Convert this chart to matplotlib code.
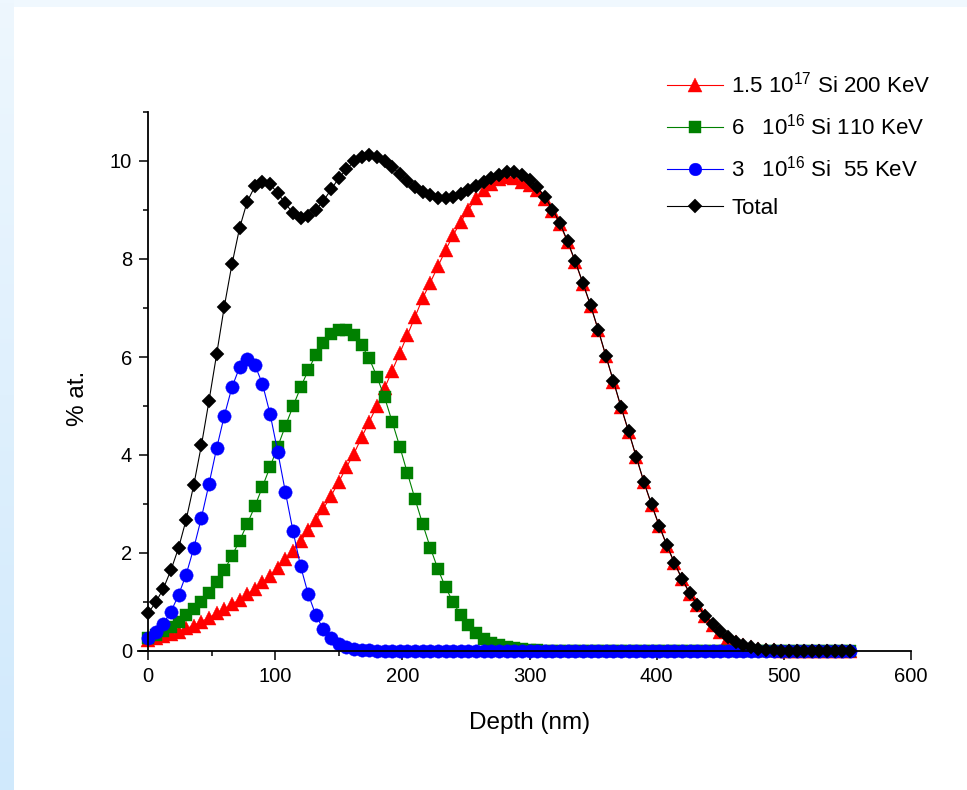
import numpy as np
import matplotlib
matplotlib.use("Agg")
import matplotlib.pyplot as plt
from matplotlib.colors import LinearSegmentedColormap

plt.rcParams['font.family'] = ['Liberation Sans', 'DejaVu Sans']
plt.rcParams['mathtext.fontset'] = 'custom'
plt.rcParams['mathtext.rm'] = 'Liberation Sans'
plt.rcParams['mathtext.it'] = 'Liberation Sans:italic'
plt.rcParams['mathtext.bf'] = 'Liberation Sans:bold'

# ---------------- data ----------------
depth = [0, 6, 12, 18, 24, 30, 36, 42, 48, 54, 60, 66, 72, 78, 84, 90, 96, 102, 108, 114,
         120, 126, 132, 138, 144, 150, 156, 162, 168, 174, 180, 186, 192, 198, 204, 210,
         216, 222, 228, 234, 240, 246, 252, 258, 264, 270, 276, 282, 288, 294, 300, 306,
         312, 318, 324, 330, 336, 342, 348, 354, 360, 366, 372, 378, 384, 390, 396, 402,
         408, 414, 420, 426, 432, 438, 444, 450, 456, 462, 468, 474, 480, 486, 492, 498,
         504, 510, 516, 522, 528, 534, 540, 546, 552]

si_200 = [0.22, 0.26, 0.30, 0.34, 0.39, 0.46, 0.52, 0.60, 0.68, 0.77,
          0.86, 0.95, 1.05, 1.16, 1.27, 1.40, 1.54, 1.70, 1.88, 2.05,
          2.24, 2.46, 2.68, 2.91, 3.17, 3.45, 3.75, 4.03, 4.36, 4.68,
          5.00, 5.36, 5.72, 6.08, 6.45, 6.82, 7.20, 7.52, 7.85, 8.18,
          8.49, 8.76, 9.01, 9.24, 9.41, 9.54, 9.64, 9.68, 9.66, 9.58,
          9.52, 9.40, 9.22, 8.98, 8.71, 8.34, 7.94, 7.50, 7.05, 6.55,
          6.02, 5.50, 4.97, 4.47, 3.95, 3.44, 2.98, 2.55, 2.15, 1.79,
          1.46, 1.17, 0.93, 0.71, 0.54, 0.39, 0.27, 0.18, 0.12, 0.08,
          0.05, 0.03, 0.02, 0.01, 0.0, 0.0, 0.0, 0.0, 0.0, 0.0,
          0.0, 0.0, 0.0]

si_110 = [0.27, 0.33, 0.40, 0.49, 0.60, 0.73, 0.85, 0.99, 1.18, 1.41,
          1.65, 1.94, 2.25, 2.59, 2.95, 3.35, 3.76, 4.17, 4.59, 4.99,
          5.38, 5.73, 6.05, 6.28, 6.47, 6.55, 6.55, 6.45, 6.24, 5.97,
          5.60, 5.18, 4.68, 4.17, 3.63, 3.10, 2.59, 2.11, 1.67, 1.30,
          0.99, 0.73, 0.53, 0.36, 0.25, 0.17, 0.12, 0.08, 0.06, 0.04,
          0.03, 0.02, 0.01, 0.0, 0.0, 0.0, 0.0, 0.0, 0.0, 0.0,
          0.0, 0.0, 0.0, 0.0, 0.0, 0.0, 0.0, 0.0, 0.0, 0.0,
          0.0, 0.0, 0.0, 0.0, 0.0, 0.0, 0.0, 0.0, 0.0, 0.0,
          0.0, 0.0, 0.0, 0.0, 0.0, 0.0, 0.0, 0.0, 0.0, 0.0,
          0.0, 0.0, 0.0]

si_55 = [0.26, 0.39, 0.56, 0.80, 1.14, 1.56, 2.10, 2.72, 3.41, 4.14,
         4.80, 5.38, 5.79, 5.95, 5.84, 5.45, 4.84, 4.07, 3.25, 2.45,
         1.73, 1.16, 0.73, 0.44, 0.26, 0.15, 0.09, 0.05, 0.03, 0.02,
         0.01, 0.0, 0.0, 0.0, 0.0, 0.0, 0.0, 0.0, 0.0, 0.0,
         0.0, 0.0, 0.0, 0.0, 0.0, 0.0, 0.0, 0.0, 0.0, 0.0,
         0.0, 0.0, 0.0, 0.0, 0.0, 0.0, 0.0, 0.0, 0.0, 0.0,
         0.0, 0.0, 0.0, 0.0, 0.0, 0.0, 0.0, 0.0, 0.0, 0.0,
         0.0, 0.0, 0.0, 0.0, 0.0, 0.0, 0.0, 0.0, 0.0, 0.0,
         0.0, 0.0, 0.0, 0.0, 0.0, 0.0, 0.0, 0.0, 0.0, 0.0,
         0.0, 0.0, 0.0]

total = [0.77, 0.99, 1.27, 1.65, 2.10, 2.68, 3.39, 4.20, 5.11, 6.06,
         7.03, 7.89, 8.63, 9.17, 9.48, 9.58, 9.53, 9.34, 9.14, 8.93,
         8.84, 8.88, 9.00, 9.19, 9.42, 9.65, 9.83, 9.99, 10.08, 10.12,
         10.08, 9.99, 9.87, 9.74, 9.60, 9.47, 9.37, 9.30, 9.25, 9.24,
         9.26, 9.32, 9.40, 9.49, 9.57, 9.65, 9.72, 9.77, 9.77, 9.71,
         9.61, 9.47, 9.27, 9.01, 8.73, 8.36, 7.95, 7.51, 7.06, 6.56,
         6.03, 5.51, 4.98, 4.48, 3.96, 3.45, 2.99, 2.56, 2.16, 1.80,
         1.47, 1.18, 0.94, 0.72, 0.55, 0.40, 0.28, 0.19, 0.12, 0.08,
         0.05, 0.03, 0.02, 0.01, 0.0, 0.0, 0.0, 0.0, 0.0, 0.0,
         0.0, 0.0, 0.0]

labels = [r'1.5 $\mathregular{10^{17}}$ Si 200 KeV',
          r'6   $\mathregular{10^{16}}$ Si 110 KeV',
          r'3   $\mathregular{10^{16}}$ Si  55 KeV',
          'Total']

x_ticks = [0, 100, 200, 300, 400, 500, 600]
y_ticks = [0, 2, 4, 6, 8, 10]

# ---------------- figure ----------------
W, H = 967, 790
fig = plt.figure(figsize=(W / 100, H / 100), dpi=100)
fig.patch.set_facecolor('white')

# background bands (light blue frame on left and top)
bg_top = fig.add_axes([0, 1 - 7 / H, 1, 7 / H])
bg_top.set_axis_off()
bg_top.add_patch(plt.Rectangle((0, 0), 1, 1, color='#F0F8FE', transform=bg_top.transAxes))
bg_left = fig.add_axes([0, 0, 14 / W, 1])
bg_left.set_axis_off()
grad = np.linspace(0, 1, 256).reshape(-1, 1)
cm = LinearSegmentedColormap.from_list('bg', ['#D0E9FC', '#EEF7FE'])
bg_left.imshow(grad, aspect='auto', cmap=cm, origin='lower', extent=[0, 1, 0, 1])

xmin, xmax = -8, 600
left_px = 148 + xmin * (763 / 600)
ax = fig.add_axes([left_px / W, (H - 651) / H, (911 - left_px) / W, (651 - 112) / H])
ax.set_facecolor('none')

series = [
    (si_200, '#FF0000', '^', 10.5),
    (si_110, '#008000', 's', 8.6),
    (si_55, '#0000FF', 'o', 9.6),
    (total, '#000000', 'D', 7.6),
]
handles = []
for (vals, col, mk, ms), lab in zip(series, labels):
    h, = ax.plot(depth, vals, color=col, lw=0.8, marker=mk, ms=ms,
                 mfc=col, mec=col, mew=0.3, label=lab, clip_on=False)
    handles.append(h)

ax.set_xlim(xmin, xmax)
ax.set_ylim(0, 11)
ax.spines['left'].set_position(('data', 0))
ax.spines['top'].set_visible(False)
ax.spines['right'].set_visible(False)
for s in ('left', 'bottom'):
    ax.spines[s].set_linewidth(1.3)

ax.set_xticks(x_ticks)
ax.set_yticks(y_ticks)
ax.set_xticks([50, 150, 250, 350, 450, 550], minor=True)
ax.set_yticks([1, 3, 5, 7, 9, 11], minor=True)
ax.tick_params(which='major', direction='out', length=6.5, width=1.1, labelsize=14.5, pad=5)
ax.tick_params(which='minor', direction='out', length=3.5, width=1.1)

ax.set_xlabel('Depth (nm)', fontsize=17.5, va='center')
ax.set_ylabel('% at.', fontsize=17.5, va='center')
ax.xaxis.set_label_coords((530 - left_px) / (911 - left_px), (651 - 723) / 539)
ax.yaxis.set_label_coords((78 - left_px) / (911 - left_px), (651 - 398) / 539)

leg = ax.legend(handles=handles, loc='upper left',
                bbox_to_anchor=(667 / W, 1 - 72 / H), bbox_transform=fig.transFigure,
                frameon=False, fontsize=16, handlelength=2.5, handletextpad=0.4,
                labelspacing=0.72, borderpad=0, borderaxespad=0, numpoints=1,
                markerscale=0.95)

fig.savefig('out.png', dpi=100, facecolor=fig.get_facecolor())
